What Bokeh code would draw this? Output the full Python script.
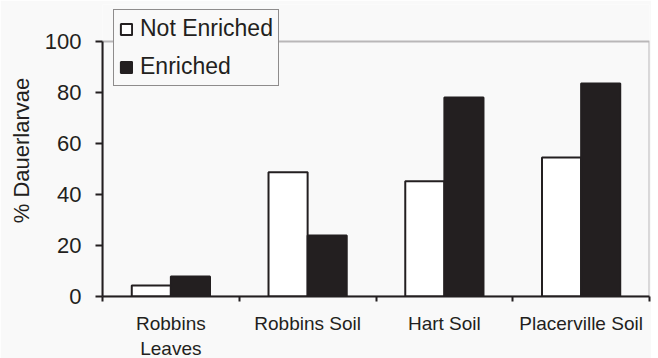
import numpy as np
import pandas as pd
from bokeh.plotting import figure
from bokeh.models import (ColumnDataSource, FixedTicker, Legend, LegendItem, Range1d,
                          BoxAnnotation)
from bokeh.transform import dodge
from bokeh.embed import file_html
from bokeh.resources import INLINE

categories = ["Robbins\nLeaves", "Robbins Soil", "Hart Soil", "Placerville Soil"]
not_enriched = [4.3, 48.7, 45.2, 54.5]
enriched = [7.8, 23.9, 78.0, 83.5]
y_ticks = [0, 20, 40, 60, 80, 100]
y_max = 100

centers = np.arange(len(categories)) + 0.5
src = ColumnDataSource(pd.DataFrame({"x": centers, "ne": not_enriched, "en": enriched}))

BG = "#f9f9f9"
INK = "#231f20"
FONT = "Liberation Sans"

p = figure(frame_width=547, frame_height=292, output_backend="svg", toolbar_location=None,
           x_range=Range1d(0, len(categories)), y_range=Range1d(0, 292 / 2.55),
           min_border_left=102, min_border_top=4, min_border_right=2, min_border_bottom=61)
p.background_fill_color = BG
p.border_fill_color = BG
p.outline_line_color = None
p.xgrid.visible = False
p.ygrid.visible = False

# plot-area border (top and right edges at the data limits)
p.add_layout(BoxAnnotation(left=0, right=len(categories), bottom=0, top=y_max,
                           fill_alpha=0, line_color=INK, line_width=2, level="underlay"))

r_ne = p.vbar(x=dodge("x", -0.143, range=p.x_range), top="ne", width=0.286, bottom=0, source=src,
              fill_color="white", line_color=INK, line_width=2)
r_en = p.vbar(x=dodge("x", 0.143, range=p.x_range), top="en", width=0.286, bottom=0, source=src,
              fill_color=INK, line_color=INK, line_width=2)

# y axis
ya = p.yaxis[0]
ya.ticker = FixedTicker(ticks=y_ticks)
ya.bounds = (0, y_max)
ya.axis_line_color = INK
ya.axis_line_width = 2
ya.major_tick_line_color = INK
ya.major_tick_line_width = 2
ya.major_tick_out = 7
ya.major_tick_in = 0
ya.minor_tick_line_color = None
ya.major_label_text_font = FONT
ya.major_label_text_font_size = "22px"
ya.major_label_text_color = INK
ya.major_label_standoff = 14
ya.axis_label = "% Dauerlarvae"
ya.axis_label_text_font = FONT
ya.axis_label_text_font_size = "22px"
ya.axis_label_text_font_style = "normal"
ya.axis_label_text_color = INK
ya.axis_label_standoff = 8

# x axis
xa = p.xaxis[0]
xa.ticker = FixedTicker(ticks=list(centers), minor_ticks=list(range(len(categories) + 1)))
xa.major_label_overrides = {float(c): lab for c, lab in zip(centers, categories)}
xa.axis_line_color = INK
xa.axis_line_width = 2
xa.major_tick_line_color = None
xa.major_tick_out = 0
xa.major_tick_in = 0
xa.minor_tick_line_color = INK
xa.minor_tick_line_width = 2
xa.minor_tick_out = 5
xa.minor_tick_in = 0
xa.major_label_text_font = FONT
xa.major_label_text_font_size = "19px"
xa.major_label_text_color = INK
xa.major_label_standoff = 11

legend = Legend(items=[LegendItem(label="Not Enriched", renderers=[r_ne]),
                       LegendItem(label="Enriched", renderers=[r_en])],
                location=(11, 210))
legend.background_fill_color = BG
legend.background_fill_alpha = 1
legend.border_line_color = INK
legend.border_line_width = 1.5
legend.label_text_font = FONT
legend.label_text_font_size = "23px"
legend.label_text_color = INK
legend.glyph_width = 14
legend.glyph_height = 14
legend.label_height = 26
legend.label_standoff = 7
legend.padding = 5
legend.spacing = 11
legend.margin = 0
p.add_layout(legend, "center")

open("out.html", "w").write(file_html(p, INLINE))
